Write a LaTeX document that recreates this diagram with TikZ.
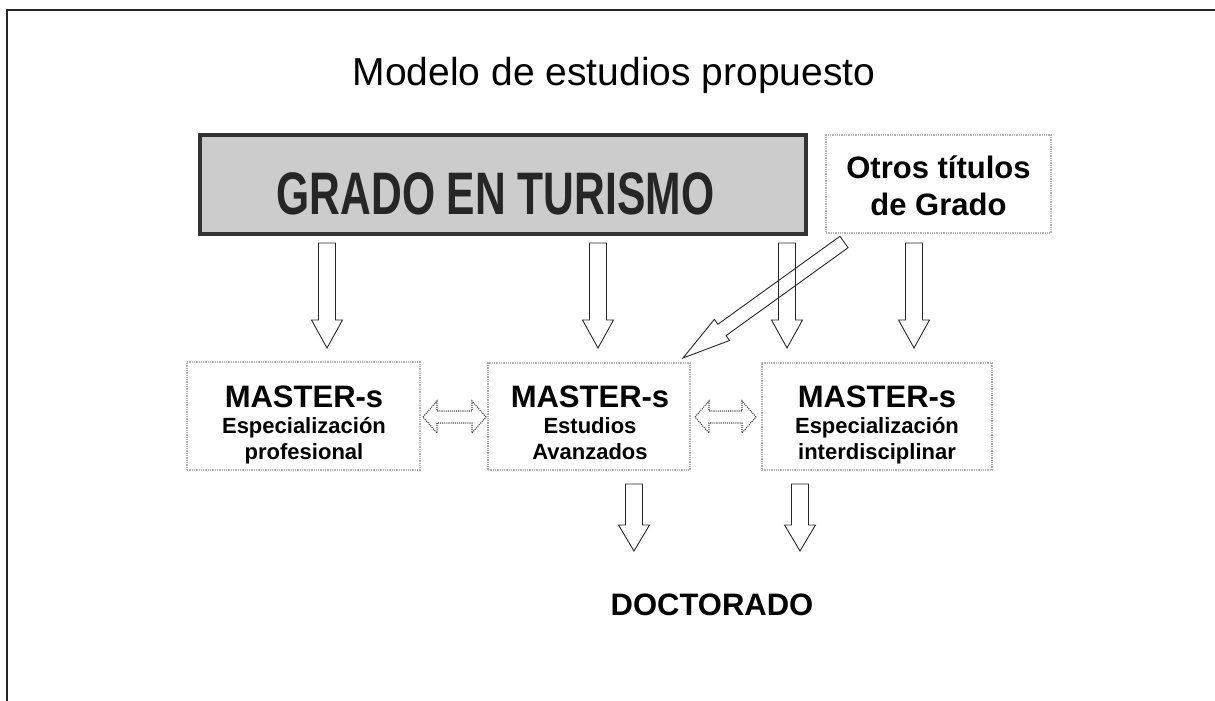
\documentclass[tikz,border=0pt]{standalone}
\usepackage{fontspec}
\setmainfont{Liberation Sans}
\newfontfamily\gradofont[FakeStretch=0.71]{Liberation Sans}
\usetikzlibrary{calc}
\newcommand{\myblockarrow}[6][]{%
  \draw[barrow,#1] ($(#2)!#4!90:(#3)$) -- ($($(#3)!#6!(#2)$)!#4!90:(#3)$)
    -- ($($(#3)!#6!(#2)$)!#5!90:(#3)$) -- (#3)
    -- ($($(#3)!#6!(#2)$)!#5!-90:(#3)$) -- ($($(#3)!#6!(#2)$)!#4!-90:(#3)$)
    -- ($(#2)!#4!-90:(#3)$) -- cycle;}
\newcommand{\mydoublearrow}[5]{%
  \draw[darrow] (#1) -- ($($(#1)!#5!(#2)$)!#4!90:(#2)$) -- ($($(#1)!#5!(#2)$)!#3!90:(#2)$)
    -- ($($(#2)!#5!(#1)$)!#3!90:(#2)$) -- ($($(#2)!#5!(#1)$)!#4!90:(#2)$) -- (#2)
    -- ($($(#2)!#5!(#1)$)!#4!-90:(#2)$) -- ($($(#2)!#5!(#1)$)!#3!-90:(#2)$)
    -- ($($(#1)!#5!(#2)$)!#3!-90:(#2)$) -- ($($(#1)!#5!(#2)$)!#4!-90:(#2)$) -- cycle;}
\tikzset{
  gradobox/.style={draw=black!80, line width=4pt, fill=black!20, inner sep=0pt, outer sep=0pt},
  dotbox/.style={draw=black!30, densely dotted, line width=1.3pt, inner sep=0pt, outer sep=0pt},
  barrow/.style={draw=black!85, line width=0.9pt, line join=miter},
  darrow/.style={draw=black!70, densely dotted, line width=1.1pt},
  big/.style={font=\bfseries\fontsize{31}{31}\selectfont, anchor=base, inner sep=0pt},
  small/.style={font=\bfseries\fontsize{22}{22}\selectfont, anchor=base, inner sep=0pt},
}
\begin{document}
\begin{tikzpicture}[x=1pt, y=-1pt]
\useasboundingbox (0,0) rectangle (1215,701);
\fill[white] (0,0) rectangle (1215,701);
\draw[line width=2pt, black!85] (7,701) -- (7,10) -- (1215,10);
\node[anchor=base, inner sep=0pt, font=\fontsize{39}{39}\selectfont] (title) at (614,85) {Modelo de estudios propuesto};
% top boxes
\node[gradobox, minimum width=606pt, minimum height=99pt] (grado) at (503,184.5) {};
\node[anchor=base, inner sep=0pt, font=\gradofont\bfseries\fontsize{60}{60}\selectfont, text=black!85] (gradotxt) at (495.5,214) {GRADO EN TURISMO};
\node[dotbox, minimum width=225pt, minimum height=98pt] (otros) at (938.5,184) {};
\node[big] (otros1) at (938.5,178) {Otros títulos};
\node[big] (otros2) at (938.5,215) {de Grado};
% master boxes
\node[dotbox, minimum width=233pt, minimum height=108pt] (m1) at (303.5,416) {};
\node[dotbox, minimum width=202pt, minimum height=107pt] (m2) at (589,416.5) {};
\node[dotbox, minimum width=230pt, minimum height=107pt] (m3) at (877,416.5) {};
\node[big] (m1a) at (304,407) {MASTER-s};
\node[small] (m1b) at (304,433) {Especialización};
\node[small] (m1c) at (304,459) {profesional};
\node[big] (m2a) at (590,407) {MASTER-s};
\node[small] (m2b) at (590,433) {Estudios};
\node[small] (m2c) at (590,459) {Avanzados};
\node[big] (m3a) at (877,407) {MASTER-s};
\node[small] (m3b) at (877,433) {Especialización};
\node[small] (m3c) at (877,459) {interdisciplinar};
\node[big] (doc) at (712,615) {DOCTORADO};
% arrow end points
\coordinate (a1s) at (327,243); \coordinate (a1e) at (327,348);
\coordinate (a2s) at (598,243); \coordinate (a2e) at (598,348);
\coordinate (a3s) at (787,243); \coordinate (a3e) at (787,348);
\coordinate (a4s) at (914,243); \coordinate (a4e) at (914,348);
\coordinate (a5s) at (844,242); \coordinate (a5e) at (683,358);
\coordinate (a6s) at (634,484); \coordinate (a6e) at (634,551);
\coordinate (a7s) at (800,484); \coordinate (a7e) at (800,551);
\coordinate (d1s) at (423,417); \coordinate (d1e) at (486,417);
\coordinate (d2s) at (695,417); \coordinate (d2e) at (756,417);
\myblockarrow{a1s}{a1e}{8.5pt}{15.5pt}{28pt}
\myblockarrow{a2s}{a2e}{8.5pt}{15.5pt}{28pt}
\myblockarrow{a3s}{a3e}{8.5pt}{15.5pt}{28pt}
\myblockarrow{a4s}{a4e}{8.5pt}{15.5pt}{28pt}
\myblockarrow{a5s}{a5e}{7pt}{13pt}{48pt}
\myblockarrow{a6s}{a6e}{8.5pt}{15.5pt}{26pt}
\myblockarrow{a7s}{a7e}{8.5pt}{15.5pt}{26pt}
\mydoublearrow{d1s}{d1e}{6pt}{16pt}{14pt}
\mydoublearrow{d2s}{d2e}{6pt}{16pt}{14pt}
\end{tikzpicture}
\end{document}
